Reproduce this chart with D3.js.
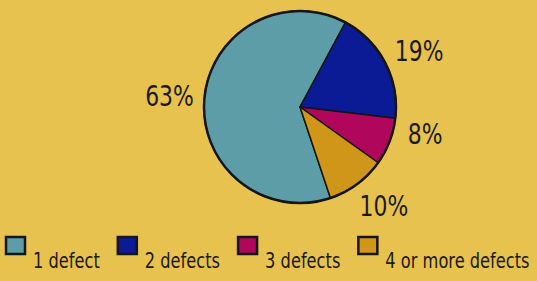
<!DOCTYPE html>
<html>
<head>
<meta charset="utf-8">
<script src="https://d3js.org/d3.v7.min.js"></script>
<style>
  body { margin: 0; background: #e7c24f; }
  svg { display: block; }
  text { font-family: "DejaVu Sans Condensed", "Liberation Sans Narrow", sans-serif; fill: #1b1a16; }
</style>
</head>
<body>
<svg id="chart" width="537" height="281"></svg>
<script>
// data
var categories = ["1 defect", "2 defects", "3 defects", "4 or more defects"];
var shares = [63, 19, 8, 10];
var pctLabels = ["63%", "19%", "8%", "10%"];
var colors = ["#5c9da7", "#0b1b95", "#b0065b", "#d0961a"];

var svg = d3.select("#chart"),
    cx = 300, cy = 107, r = 96,
    squeeze = 0.84;   // narrow the font to look like the condensed original

var g = svg.append("g").attr("transform", "translate(" + cx + "," + cy + ")");

var start = 161.5 * Math.PI / 180;
var pie = d3.pie().sort(null).value(function(d) { return d; })
    .startAngle(start).endAngle(start + 2 * Math.PI);
var arcs = pie(shares);

var arc = d3.arc().innerRadius(0).outerRadius(r);

g.selectAll("path.slice")
  .data(arcs)
  .enter().append("path")
  .attr("class", "slice")
  .attr("d", arc)
  .attr("fill", function(d, i) { return colors[i]; })
  .attr("stroke", "#151515")
  .attr("stroke-width", 1.5)
  .attr("stroke-linejoin", "round");

// outline
g.append("circle").attr("r", r).attr("fill", "none")
  .attr("stroke", "#151515").attr("stroke-width", 2.5);

// percentage labels placed on an outer arc, nudged a bit
var labelArc = d3.arc().innerRadius(131).outerRadius(131);
var nudge = [[0, 0], [3, 4], [3, -21], [6, -7]];
g.selectAll("text.pct")
  .data(arcs)
  .enter().append("text")
  .attr("class", "pct")
  .attr("transform", function(d, i) {
    var c = labelArc.centroid(d);
    return "translate(" + (c[0] + nudge[i][0]) + "," + (c[1] + nudge[i][1]) + ") scale(" + squeeze + ",1)";
  })
  .attr("text-anchor", "middle")
  .attr("dy", "0.36em")
  .style("font-size", "29px")
  .text(function(d, i) { return pctLabels[i]; });

// legend: square, then label, laid out left to right
var lx = 5, legSqueeze = 0.86;
categories.forEach(function(c, i) {
  var item = svg.append("g").attr("class", "leg")
    .attr("transform", "translate(" + lx + ",237)");
  item.append("rect")
    .attr("x", 1).attr("y", 0)
    .attr("width", 19).attr("height", 17)
    .attr("fill", colors[i])
    .attr("stroke", "#151515").attr("stroke-width", 2.5);
  var t = item.append("text")
    .attr("transform", "translate(28,31) scale(" + legSqueeze + ",1)")
    .style("font-size", "21px")
    .text(c);
  var w = t.node().getComputedTextLength() * legSqueeze;
  lx += 28 + w + 17;
});
</script>
</body>
</html>
